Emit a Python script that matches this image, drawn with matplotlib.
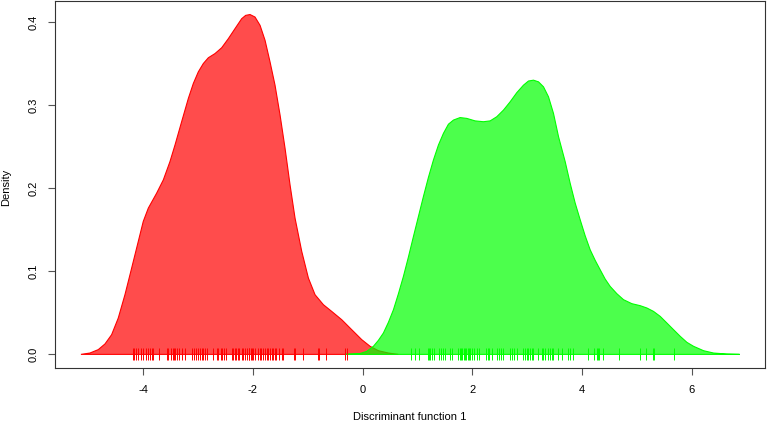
import matplotlib
matplotlib.use('Agg')
import matplotlib.pyplot as plt

plt.rcParams['font.family'] = ['Liberation Sans', 'DejaVu Sans']

# density curve of group 1
red_x = [-5.137, -4.973, -4.821, -4.699, -4.577, -4.456, -4.334, -4.212, -4.091, -4.000,
         -3.908, -3.756, -3.634, -3.513, -3.421, -3.300, -3.178, -3.087, -2.996, -2.905,
         -2.813, -2.692, -2.570, -2.448, -2.327, -2.205, -2.132, -2.053, -1.962, -1.870,
         -1.779, -1.688, -1.597, -1.505, -1.414, -1.323, -1.232, -1.110, -0.988, -0.867,
         -0.715, -0.563, -0.380, -0.198, -0.015, 0.137, 0.289, 0.471, 0.650]
red_y = [0.0, 0.0016, 0.0057, 0.0125, 0.0237, 0.0437, 0.0718, 0.1038, 0.1359, 0.160,
         0.176, 0.194, 0.210, 0.232, 0.252, 0.280, 0.308, 0.326, 0.340, 0.350,
         0.357, 0.362, 0.369, 0.380, 0.392, 0.404, 0.408, 0.409, 0.406, 0.396,
         0.378, 0.352, 0.324, 0.288, 0.248, 0.204, 0.164, 0.124, 0.0918, 0.0718,
         0.0598, 0.0517, 0.0417, 0.0297, 0.0177, 0.0097, 0.0044, 0.0016, 0.0]

# density curve of group 2
green_x = [-0.320, -0.046, 0.076, 0.198, 0.289, 0.380, 0.471, 0.563, 0.654, 0.745,
           0.836, 0.928, 1.019, 1.110, 1.201, 1.293, 1.384, 1.475, 1.566, 1.658,
           1.779, 1.901, 2.053, 2.205, 2.327, 2.448, 2.570, 2.692, 2.813, 2.935,
           3.026, 3.117, 3.209, 3.300, 3.391, 3.482, 3.574, 3.695, 3.786, 3.878,
           3.969, 4.060, 4.151, 4.243, 4.334, 4.425, 4.516, 4.638, 4.760, 4.912,
           5.064, 5.186, 5.307, 5.429, 5.551, 5.672, 5.794, 5.915, 6.037, 6.220,
           6.402, 6.645, 6.877]
green_y = [0.0, 0.001, 0.0036, 0.0097, 0.0169, 0.0257, 0.0385, 0.0537, 0.0730, 0.0938,
           0.1171, 0.1419, 0.166, 0.190, 0.213, 0.234, 0.252, 0.266, 0.277, 0.282,
           0.285, 0.284, 0.281, 0.280, 0.281, 0.286, 0.294, 0.304, 0.315, 0.324,
           0.329, 0.330, 0.328, 0.322, 0.310, 0.290, 0.262, 0.232, 0.206, 0.182,
           0.162, 0.1427, 0.1259, 0.1131, 0.1018, 0.0906, 0.0818, 0.0730, 0.0658, 0.0610,
           0.0586, 0.0558, 0.0517, 0.0457, 0.0377, 0.0297, 0.0217, 0.0145, 0.0097, 0.0044,
           0.0016, 0.0004, 0.0]

# rug values
red_rug = [-4.18, -4.16, -4.14, -4.10, -4.05, -4.01, -3.95, -3.91, -3.88, -3.84,
           -3.82, -3.71, -3.57, -3.54, -3.50, -3.46, -3.44, -3.42, -3.38, -3.34,
           -3.30, -3.24, -3.11, -3.07, -3.03, -3.00, -2.97, -2.93, -2.91, -2.87,
           -2.84, -2.73, -2.66, -2.63, -2.59, -2.57, -2.53, -2.49, -2.39, -2.36,
           -2.33, -2.30, -2.27, -2.25, -2.20, -2.18, -2.14, -2.11, -2.08, -2.07,
           -2.04, -2.02, -1.99, -1.96, -1.91, -1.88, -1.85, -1.81, -1.78, -1.75,
           -1.72, -1.69, -1.66, -1.63, -1.60, -1.57, -1.52, -1.47, -1.45, -1.25,
           -1.23, -1.09, -0.82, -0.80, -0.67, -0.32, -0.29]
green_rug = [0.885, 0.958, 1.036, 1.190, 1.214, 1.237, 1.263, 1.305, 1.401, 1.432,
             1.464, 1.511, 1.597, 1.633, 1.748, 1.774, 1.797, 1.821, 1.847, 1.870,
             1.894, 1.920, 1.944, 1.967, 1.998, 2.040, 2.084, 2.131, 2.254, 2.285,
             2.314, 2.369, 2.460, 2.496, 2.527, 2.569, 2.692, 2.728, 2.765, 2.825,
             2.934, 2.965, 2.996, 3.026, 3.057, 3.088, 3.117, 3.197, 3.270, 3.299,
             3.330, 3.391, 3.422, 3.453, 3.482, 3.573, 3.635, 3.755, 3.786, 3.847,
             4.109, 4.230, 4.274, 4.303, 4.321, 4.383, 4.686, 5.064, 5.173, 5.296,
             5.307, 5.672]

xticks = [-4, -2, 0, 2, 4, 6]
yticks = [0.0, 0.1, 0.2, 0.3, 0.4]

fig = plt.figure(figsize=(7.67, 4.23), dpi=100)
ax = fig.add_axes([55 / 767, 55 / 423, 710 / 767, 367 / 423])

ax.fill(red_x, red_y, facecolor=(1, 0, 0, 0.7), edgecolor='red', lw=0.8)
ax.fill(green_x, green_y, facecolor=(0, 1, 0, 0.7), edgecolor=(0, 1, 0), lw=0.8)

ax.plot(red_rug, [0] * len(red_rug), '|', color='red', ms=8, mew=0.7)
ax.plot(green_rug, [0] * len(green_rug), '|', color=(0, 1, 0), ms=8, mew=0.7)

ax.set_xlim(-5.61, 7.34)
ax.set_ylim(-0.0164, 0.4253)
ax.set_xticks(xticks)
ax.set_xticklabels([str(t) for t in xticks])
ax.set_yticks(yticks)
ax.set_yticklabels(['%.1f' % t for t in yticks], rotation=90, va='center')
ax.tick_params(length=5, width=0.8, color='#555555', labelsize=8, pad=7)

for s in ax.spines.values():
    s.set_color('#333333')
    s.set_linewidth(0.8)

fig.text(410 / 767, 1 - 417 / 423, 'Discriminant function 1', ha='center',
         va='center', fontsize=8)
fig.text(6 / 767, 1 - 187 / 423, 'Density', ha='center', va='center',
         rotation=90, fontsize=8)

fig.savefig('out.png', dpi=100)
